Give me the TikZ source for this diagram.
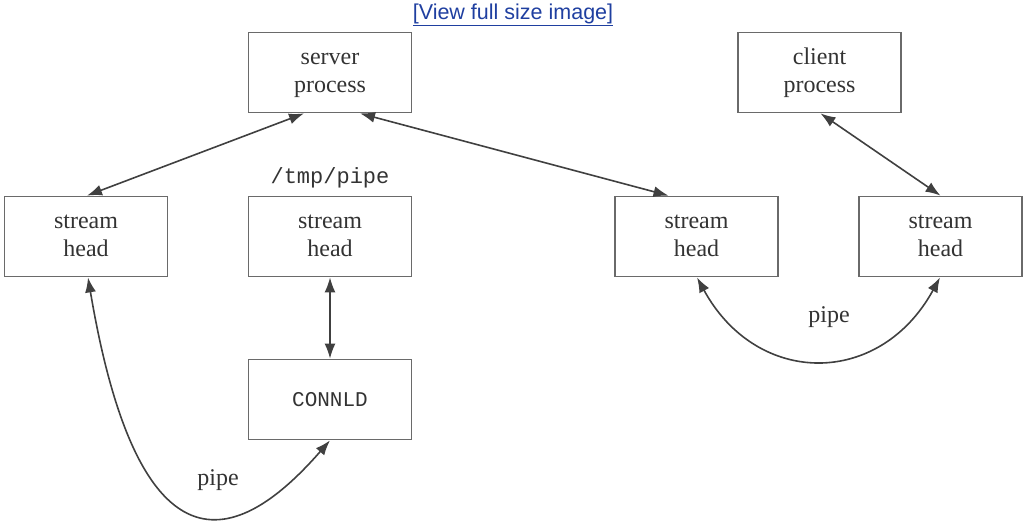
\documentclass[tikz,border=0pt]{standalone}
\usepackage{fontspec}
\setmainfont{Liberation Serif}
\newfontfamily\linkfont{Liberation Sans}
\newfontfamily\monofont{Liberation Mono}
\usetikzlibrary{arrows.meta}
\definecolor{boxline}{HTML}{6A6A6A}
\definecolor{txt}{HTML}{333333}
\definecolor{linkblue}{HTML}{1F3FA0}
\tikzset{
  box/.style={draw=boxline, line width=1.8pt, minimum width=163pt, minimum height=80pt, inner sep=0pt,
    align=center, text=txt, font=\fontsize{24}{28}\selectfont},
  conn/.style={draw=black!75, line width=1.6pt, {Latex[length=15pt,width=11pt]}-{Latex[length=15pt,width=11pt]}},
  lbl/.style={text=txt, font=\fontsize{24}{28}\selectfont, inner sep=0pt},
}
\begin{document}
\begin{tikzpicture}[x=1pt, y=-1pt]
\useasboundingbox (0,0) rectangle (1024,523);
\node[text=linkblue, font=\linkfont\fontsize{21.5}{24}\selectfont, inner sep=0pt] (link) at (513,15) {\underline{[View full size image]}};
\node[box] (server) at (330,72.5) {\strut server\\\strut process};
\node[box] (client) at (819.5,72.5) {\strut client\\\strut process};
\node[box] (sh1) at (86,236.5) {\strut stream\\\strut head};
\node[box] (sh2) at (330,236.5) {\strut stream\\\strut head};
\node[box] (sh3) at (696.5,236.5) {\strut stream\\\strut head};
\node[box] (sh4) at (940.5,236.5) {\strut stream\\\strut head};
\node[box, font=\monofont\fontsize{21}{26}\selectfont] (connld) at (330,399.5) {CONNLD};
\node[text=txt, font=\monofont\fontsize{22}{26}\selectfont, inner sep=0pt, anchor=base] (tmp) at (330,183) {/tmp/pipe};
\node[lbl] (pipeL) at (218,480) {pipe};
\node[lbl] (pipeR) at (829,317) {pipe};
\draw[conn] ([xshift=-26pt]server.south) -- ([xshift=1pt]sh1.north);
\draw[conn] ([xshift=30pt]server.south) -- ([xshift=-28pt]sh3.north);
\draw[conn] ([xshift=1pt]client.south) -- ([xshift=0pt]sh4.north);
\draw[conn] (sh2.south) -- (connld.north);
\draw[conn] ([xshift=2pt]sh1.south) .. controls +(57,338) and +(-70,80) .. (connld.south);
\draw[conn] ([xshift=0.5pt]sh3.south) .. controls +(60,110) and +(-60,110) .. ([xshift=-0.5pt]sh4.south);
\end{tikzpicture}
\end{document}
